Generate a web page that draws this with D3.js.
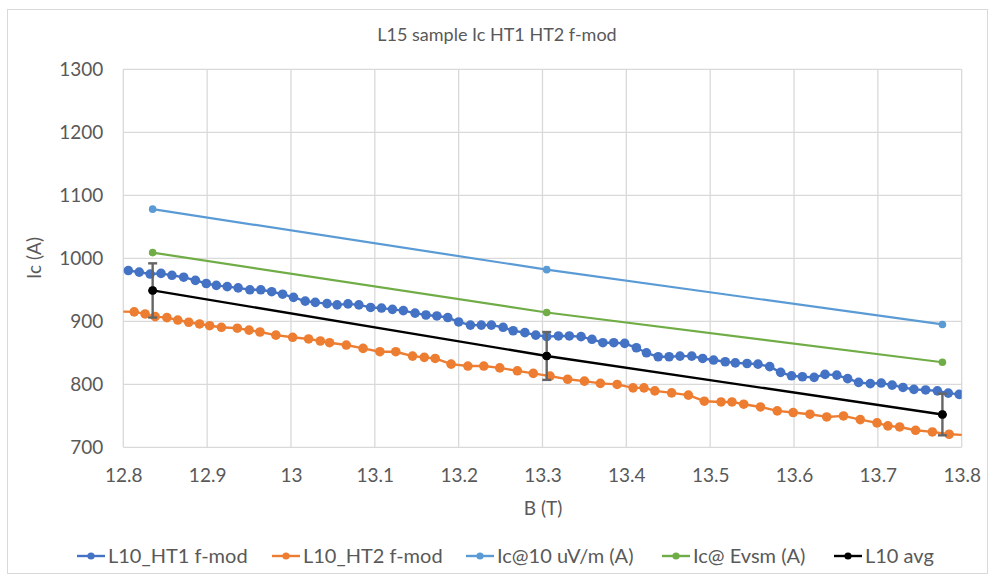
<!DOCTYPE html>
<html>
<head>
<meta charset="utf-8">
<script src="https://cdn.jsdelivr.net/npm/d3@7"></script>
<style>
  html, body { margin: 0; padding: 0; background: #fff; }
  svg { display: block; font-family: Lato, "Open Sans", sans-serif; }
</style>
</head>
<body>
<svg id="chart" width="995" height="581"></svg>
<script>
// L10_HT1 f-mod: field (T) and critical current (A)
const ht1B = [12.806, 12.819, 12.832, 12.845, 12.858, 12.872, 12.886, 12.899, 12.911, 12.924,
  12.937, 12.951, 12.964, 12.977, 12.990, 13.003, 13.017, 13.029, 13.043, 13.055,
  13.068, 13.081, 13.095, 13.108, 13.121, 13.134, 13.148, 13.161, 13.174, 13.187,
  13.200, 13.214, 13.227, 13.239, 13.253, 13.265, 13.279, 13.292, 13.305, 13.319,
  13.332, 13.346, 13.359, 13.372, 13.385, 13.398, 13.412, 13.424, 13.438, 13.451,
  13.464, 13.478, 13.491, 13.504, 13.518, 13.530, 13.544, 13.557, 13.571, 13.584,
  13.597, 13.610, 13.624, 13.637, 13.651, 13.664, 13.677, 13.691, 13.704, 13.717,
  13.730, 13.743, 13.757, 13.771, 13.784, 13.797];
const ht1Ic = [980.6, 978, 975, 976, 973, 970, 965, 960, 957, 955,
  953, 950, 950, 947, 943, 938, 932, 930, 928, 926,
  927.6, 926, 922, 921, 919, 917, 913, 910, 908.5, 906,
  899, 894, 894, 894, 890.5, 885, 882, 878, 875.6, 876.7,
  876.7, 875.6, 871.4, 866, 866, 865, 858, 850, 843.7, 843.7,
  844.8, 844.8, 841, 838.5, 835.8, 834, 833, 832, 828, 819,
  813.5, 812, 811, 815.7, 814.6, 809, 803, 801, 802, 798.7,
  795, 792, 791, 789.6, 786, 784];

// L10_HT2 f-mod (first and last samples lie just outside the plotted field range)
const ht2B = [12.790, 12.813, 12.826, 12.838, 12.852, 12.865, 12.878, 12.891, 12.903, 12.917,
  12.936, 12.950, 12.963, 12.982, 13.002, 13.021, 13.035, 13.046, 13.066, 13.086,
  13.106, 13.125, 13.145, 13.159, 13.172, 13.191, 13.211, 13.230, 13.249, 13.270,
  13.289, 13.309, 13.330, 13.350, 13.369, 13.389, 13.408, 13.421, 13.434, 13.454,
  13.474, 13.493, 13.513, 13.526, 13.540, 13.560, 13.580, 13.599, 13.619, 13.639,
  13.659, 13.679, 13.699, 13.712, 13.726, 13.745, 13.765, 13.785, 13.812];
const ht2Ic = [915.5, 915, 911.7, 907.4, 905.8, 902, 898.5, 895.8, 893, 890.5,
  889, 886, 883, 878, 874.6, 872, 868.7, 866, 862.3, 857,
  851.7, 851.7, 844.8, 842.8, 841, 832, 829, 829, 826, 821.4,
  817.3, 813, 808, 805, 801.4, 799.8, 794.4, 794.4, 789.6, 786.4,
  782.8, 773.2, 772, 772, 768.4, 764, 757.8, 755.2, 752.5, 748.2,
  749.8, 744, 738.7, 734, 732.3, 727, 724.4, 720.7, 719];

// Reference fields and the derived critical currents
const refB = [12.835, 13.305, 13.777];
const ic10uV = [1078, 982, 895];
const icEvsm = [1009, 914, 835];
const avgIc = [949, 845, 752];
const avgErr = [43, 38, 33];

const xTicks = [12.8, 12.9, 13.0, 13.1, 13.2, 13.3, 13.4, 13.5, 13.6, 13.7, 13.8];
const yTicks = [700, 800, 900, 1000, 1100, 1200, 1300];
const seriesNames = ["L10_HT1 f-mod", "L10_HT2 f-mod", "Ic@10 uV/m (A)", "Ic@ Evsm (A)", "L10 avg"];
const seriesColors = ["#4472C4", "#ED7D31", "#5B9BD5", "#70AD47", "#000000"];

const svg = d3.select("#chart");
const plot = { left: 123.3, right: 961.7, top: 69.3, bottom: 447.3 };

// chart frame
svg.append("rect").attr("x", 7.5).attr("y", 9.5).attr("width", 980).attr("height", 564)
  .attr("fill", "#fff").attr("stroke", "#d9d9d9").attr("stroke-width", 1);

const x = d3.scaleLinear().domain([12.8, 13.8]).range([plot.left, plot.right]);
const y = d3.scaleLinear().domain([700, 1300]).range([plot.bottom, plot.top]);

// gridlines
const grid = svg.append("g");
grid.selectAll(".vg").data(xTicks).join("line")
  .attr("x1", d => x(d)).attr("x2", d => x(d))
  .attr("y1", plot.top).attr("y2", plot.bottom)
  .attr("stroke", "#d9d9d9").attr("stroke-width", 1.3);
grid.selectAll(".hg").data(yTicks).join("line")
  .attr("x1", plot.left).attr("x2", plot.right)
  .attr("y1", d => y(d)).attr("y2", d => y(d))
  .attr("stroke", "#d9d9d9").attr("stroke-width", 1.3);

// axes (labels only, lines come from the grid)
const fmtX = d => (Math.round(d * 10) / 10).toString();
const xAxis = svg.append("g").attr("transform", `translate(0,${plot.bottom})`)
  .call(d3.axisBottom(x).tickValues(xTicks).tickFormat(fmtX).tickSize(0).tickPadding(21));
const yAxis = svg.append("g").attr("transform", `translate(${plot.left},0)`)
  .call(d3.axisLeft(y).tickValues(yTicks).tickFormat(d3.format("d")).tickSize(0).tickPadding(20));
[xAxis, yAxis].forEach(a => {
  a.select(".domain").remove();
  a.selectAll("text").attr("fill", "#595959").attr("font-size", 19).attr("font-family", "Lato, sans-serif");
});

// title and axis titles
svg.append("text").attr("x", 497).attr("y", 41).attr("text-anchor", "middle")
  .attr("font-size", 18).attr("fill", "#595959").text("L15 sample Ic HT1 HT2 f-mod");
svg.append("text").attr("x", 543).attr("y", 515).attr("text-anchor", "middle")
  .attr("font-size", 19).attr("fill", "#595959").text("B (T)");
svg.append("text").attr("transform", "translate(41,258) rotate(-90)").attr("text-anchor", "middle")
  .attr("font-size", 19).attr("fill", "#595959").text("Ic (A)");

// clip to the plot area
svg.append("defs").append("clipPath").attr("id", "plotClip")
  .append("rect").attr("x", plot.left).attr("y", plot.top)
  .attr("width", plot.right - plot.left).attr("height", plot.bottom - plot.top);

const layer = svg.append("g").attr("clip-path", "url(#plotClip)");
const line = d3.line().x(d => x(d[0])).y(d => y(d[1]));

function drawSeries(bs, vals, color, width, r) {
  const pts = bs.map((b, i) => [b, vals[i]]);
  layer.append("path").datum(pts).attr("d", line)
    .attr("fill", "none").attr("stroke", color).attr("stroke-width", width)
    .attr("stroke-linejoin", "round");
  layer.append("g").selectAll("circle").data(pts).join("circle")
    .attr("cx", d => x(d[0])).attr("cy", d => y(d[1])).attr("r", r)
    .attr("fill", color);
}

drawSeries(ht1B, ht1Ic, seriesColors[0], 2.4, 4.8);
drawSeries(ht2B, ht2Ic, seriesColors[1], 2.4, 4.8);
drawSeries(refB, ic10uV, seriesColors[2], 2.2, 3.8);
drawSeries(refB, icEvsm, seriesColors[3], 2.2, 3.8);
drawSeries(refB, avgIc, seriesColors[4], 2.4, 4.3);

// error bars on the average
const eb = svg.append("g").attr("stroke", "#656565").attr("stroke-width", 2.4);
refB.forEach((b, i) => {
  const cx = x(b), top = y(avgIc[i] + avgErr[i]), bot = y(avgIc[i] - avgErr[i]);
  eb.append("line").attr("x1", cx).attr("x2", cx).attr("y1", top).attr("y2", bot);
  eb.append("line").attr("x1", cx - 4.5).attr("x2", cx + 4.5).attr("y1", top).attr("y2", top);
  eb.append("line").attr("x1", cx - 4.5).attr("x2", cx + 4.5).attr("y1", bot).attr("y2", bot);
});
// average markers stay on top of the bars
svg.append("g").selectAll("circle").data(refB).join("circle")
  .attr("cx", d => x(d)).attr("cy", (d, i) => y(avgIc[i])).attr("r", 4.3).attr("fill", "#000");

// legend
const legendX = [77, 272, 466, 662, 834];
const lg = svg.append("g").attr("transform", "translate(0,556)");
seriesNames.forEach((name, i) => {
  const g = lg.append("g").attr("transform", `translate(${legendX[i]},0)`);
  g.append("line").attr("x1", 0).attr("x2", 28).attr("y1", 0).attr("y2", 0)
    .attr("stroke", seriesColors[i]).attr("stroke-width", 2.4);
  g.append("circle").attr("cx", 14).attr("cy", 0).attr("r", 3.6).attr("fill", seriesColors[i]);
  g.append("text").attr("x", 31).attr("y", 0).attr("dy", "0.35em")
    .attr("font-size", 20).attr("fill", "#595959").text(name);
});
</script>
</body>
</html>
